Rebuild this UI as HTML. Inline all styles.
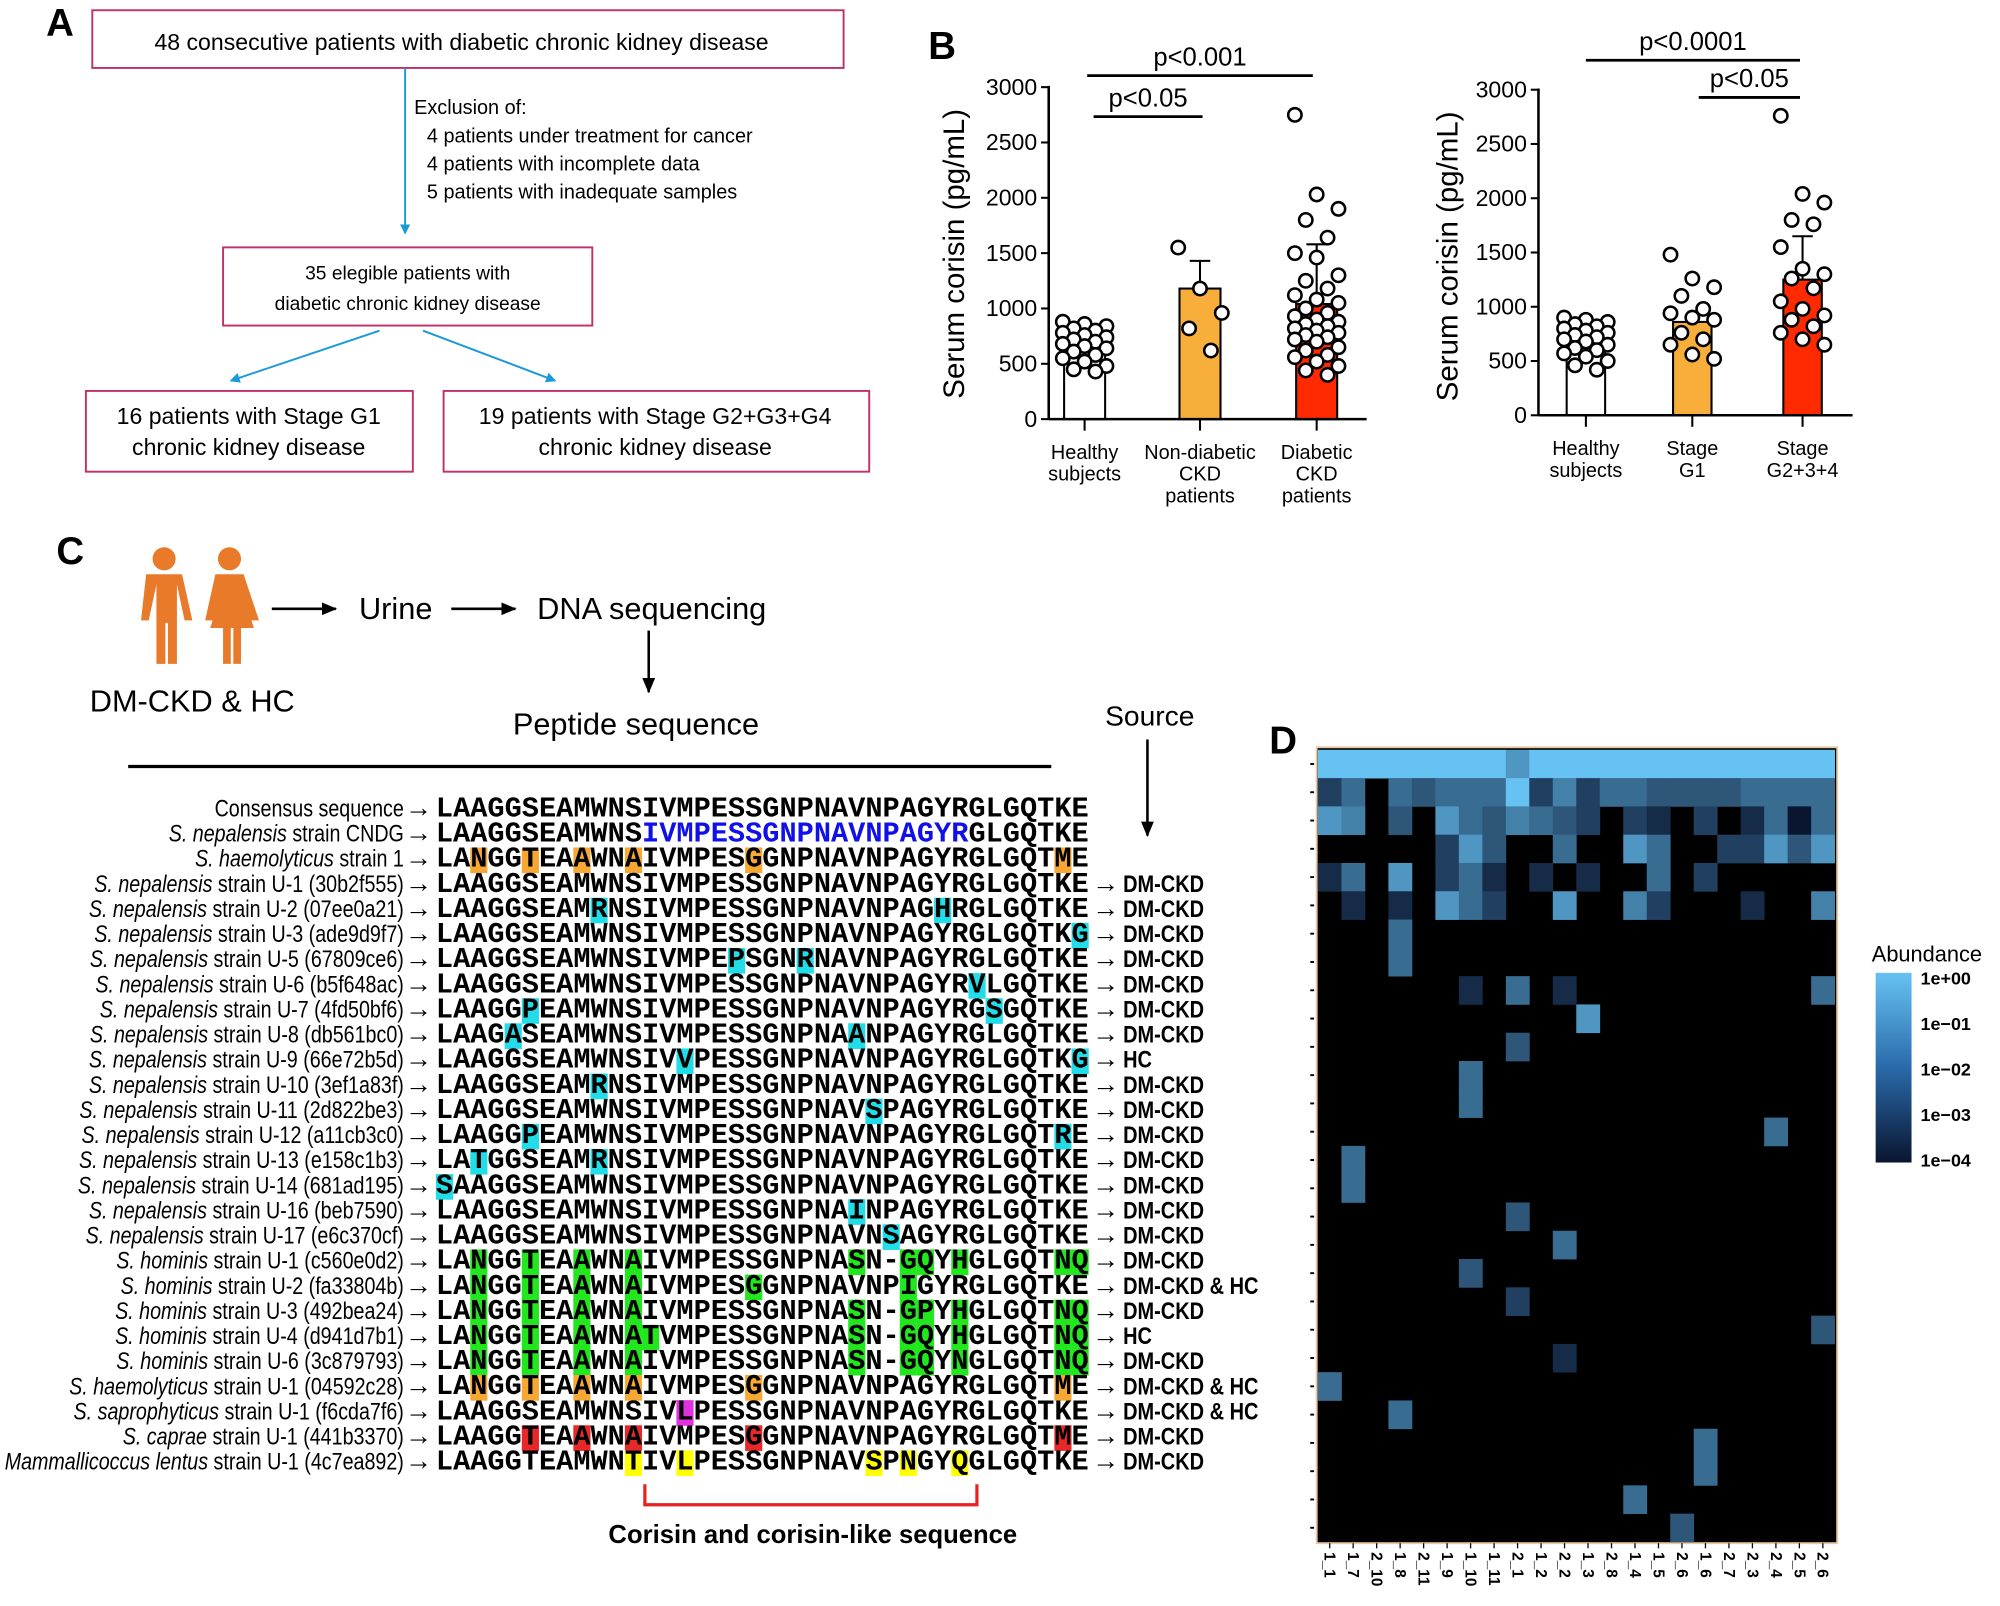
<!DOCTYPE html>
<html><head><meta charset="utf-8"><style>
html,body{margin:0;padding:0;background:#fff;}
svg{display:block;}
text{font-family:"Liberation Sans",Arial,sans-serif;}
.mono{font-family:"Liberation Mono",monospace;font-weight:bold;}
</style></head><body>
<svg id="fig" width="2000" height="1606" viewBox="0 0 1560 1253" preserveAspectRatio="none" xmlns="http://www.w3.org/2000/svg">
<defs>
<marker id="arrB" markerWidth="8" markerHeight="8" refX="7" refY="4" orient="auto" markerUnits="userSpaceOnUse"><path d="M0,0 L8,4 L0,8 z" fill="#1a9ad6"/></marker>
<marker id="arrK" markerWidth="12" markerHeight="10" refX="11" refY="5" orient="auto" markerUnits="userSpaceOnUse"><path d="M0,0 L12,5 L0,10 z" fill="#000"/></marker>
<linearGradient id="legGrad" x1="0" y1="0" x2="0" y2="1"><stop offset="0" stop-color="#66c2f2"/><stop offset="0.5" stop-color="#2a6aaa"/><stop offset="1" stop-color="#0a1530"/></linearGradient>
</defs>

<g>
<text x="36" y="28" font-size="30" font-weight="bold">A</text>
<rect x="72" y="8" width="586" height="45" fill="none" stroke="#c0306a" stroke-width="1.5"/>
<text x="360" y="39" font-size="18" text-anchor="middle">48 consecutive patients with diabetic chronic kidney disease</text>
<line x1="316" y1="53" x2="316" y2="182" stroke="#1a9ad6" stroke-width="1.5" marker-end="url(#arrB)"/>
<g font-size="15.5">
<text x="323" y="89">Exclusion of:</text>
<text x="333" y="111">4 patients under treatment for cancer</text>
<text x="333" y="133">4 patients with incomplete data</text>
<text x="333" y="155">5 patients with inadequate samples</text>
</g>
<rect x="174" y="193" width="288" height="61" fill="none" stroke="#c0306a" stroke-width="1.5"/>
<text x="318" y="218" font-size="15" text-anchor="middle">35 elegible patients with</text>
<text x="318" y="242" font-size="15" text-anchor="middle">diabetic chronic kidney disease</text>
<line x1="296" y1="258" x2="180" y2="297" stroke="#1a9ad6" stroke-width="1.5" marker-end="url(#arrB)"/>
<line x1="330" y1="258" x2="433" y2="297" stroke="#1a9ad6" stroke-width="1.5" marker-end="url(#arrB)"/>
<rect x="67" y="305" width="255" height="63" fill="none" stroke="#c0306a" stroke-width="1.5"/>
<text x="194" y="331" font-size="18" text-anchor="middle">16 patients with Stage G1</text>
<text x="194" y="355" font-size="18" text-anchor="middle">chronic kidney disease</text>
<rect x="346" y="305" width="332" height="63" fill="none" stroke="#c0306a" stroke-width="1.5"/>
<text x="511" y="331" font-size="18" text-anchor="middle">19 patients with Stage G2+G3+G4</text>
<text x="511" y="355" font-size="18" text-anchor="middle">chronic kidney disease</text>
</g>

<g id="panelB">
<text x="724" y="46" font-size="30" font-weight="bold">B</text>
</g>

<g id="panelC">
<text x="44" y="440" font-size="30" font-weight="bold">C</text>
<g fill="#e87a2a">
<circle cx="128" cy="436" r="9"/>
<path d="M114,448 h28 l8,36 h-6 l-6,-28 v62 h-7 v-32 h-2 v32 h-7 v-62 l-6,28 h-6 z"/>
<circle cx="179" cy="436" r="9"/>
<path d="M168,448 h22 l12,36 h-6 l-8,-26 l10,32 h-10 v28 h-6 v-28 h-2 v28 h-6 v-28 h-10 l10,-32 l-8,26 h-6 z"/>
</g>
<text x="70" y="555" font-size="24">DM-CKD &amp; HC</text>
<line x1="212" y1="475" x2="262" y2="475" stroke="#000" stroke-width="2" marker-end="url(#arrK)"/>
<text x="280" y="483" font-size="24">Urine</text>
<line x1="352" y1="475" x2="402" y2="475" stroke="#000" stroke-width="2" marker-end="url(#arrK)"/>
<text x="419" y="483" font-size="24">DNA sequencing</text>
<line x1="506" y1="492" x2="506" y2="540" stroke="#000" stroke-width="2" marker-end="url(#arrK)"/>
<text x="400" y="573" font-size="24">Peptide sequence</text>
<text x="862" y="566" font-size="22">Source</text>
<line x1="895" y1="577" x2="895" y2="652" stroke="#000" stroke-width="2" marker-end="url(#arrK)"/>
<line x1="100" y1="598" x2="820" y2="598" stroke="#000" stroke-width="2.5"/>
<path d="M503,1158 V1174 H762 V1158" fill="none" stroke="#e82020" stroke-width="2.5"/>
<text x="634" y="1204" font-size="20" font-weight="bold" text-anchor="middle">Corisin and corisin-like sequence</text>
<g id="align"></g>
</g>

<g id="panelD">
<text x="990" y="588" font-size="30" font-weight="bold">D</text>
</g>
</svg>

<script>
const NS="http://www.w3.org/2000/svg";
function mk(parent,tag,attrs,txt){const e=document.createElementNS(NS,tag);for(const k in attrs)e.setAttribute(k,attrs[k]);if(txt!==undefined)e.textContent=txt;parent.appendChild(e);return e;}

const b1Categories=[["Healthy","subjects"],["Non-diabetic","CKD","patients"],["Diabetic","CKD","patients"]];
const b1Means=[720,1180,1040];
const b1Err=[0,250,540];
const b1Healthy=[880,860,840,820,800,780,760,740,720,700,680,660,640,610,580,550,520,480,450,430];
const b1NonDiab=[1550,1180,960,820,620];
const b1Diab=[2750,2030,1900,1800,1640,1500,1460,1300,1250,1180,1120,1080,1050,1000,960,930,900,880,860,840,820,800,780,760,740,720,700,650,620,580,560,520,480,440,400];
const b2Categories=[["Healthy","subjects"],["Stage","G1"],["Stage","G2+3+4"]];
const b2Means=[720,860,1250];
const b2Err=[0,0,400];
const b2Healthy=[900,880,860,840,820,800,780,760,740,720,700,680,650,620,600,570,540,500,460,420];
const b2G1=[1480,1260,1180,1100,980,940,900,880,760,700,650,560,520];
const b2G2=[2760,2040,1960,1800,1760,1550,1350,1300,1260,1170,1050,980,920,880,820,760,700,650];
const yTicks=[0,500,1000,1500,2000,2500,3000];
const barColors=["#ffffff","#f7ae3b","#ff2a00"];

function barChart(g,ox,y0,y3000,xEnd,xs,cats,means,errs,groups,ylabX,ylabY,barW){
  const ys=v=>y0-(v/3000)*(y0-y3000);
  means.forEach((m,i)=>{
    const r=mk(g,'rect',{x:xs[i]-barW/2,y:ys(m),width:barW,height:y0-ys(m),fill:barColors[i],stroke:'#000','stroke-width':1.6});
    
    
    if(errs[i]>0){
      mk(g,'line',{x1:xs[i],y1:ys(m),x2:xs[i],y2:ys(m+errs[i]),stroke:'#000','stroke-width':1.6});
      mk(g,'line',{x1:xs[i]-8,y1:ys(m+errs[i]),x2:xs[i]+8,y2:ys(m+errs[i]),stroke:'#000','stroke-width':1.6});
    }
  });
  groups.forEach((arr,i)=>{
    arr.forEach((v,j)=>{
      const off=((j*7)%5-2)*8.5;
      const c=mk(g,'circle',{cx:xs[i]+off,cy:ys(v),r:5.2,fill:'#fff',stroke:'#000','stroke-width':2});
      
      
    });
  });
  mk(g,'line',{x1:ox,y1:ys(3000)-1,x2:ox,y2:y0,stroke:'#000','stroke-width':2});
  mk(g,'line',{x1:ox,y1:y0,x2:xEnd,y2:y0,stroke:'#000','stroke-width':2});
  yTicks.forEach(t=>{
    mk(g,'line',{x1:ox-6,y1:ys(t),x2:ox,y2:ys(t),stroke:'#000','stroke-width':1.6});
    const tx=mk(g,'text',{x:ox-9,y:ys(t)+6,'font-size':18,'text-anchor':'end'},String(t));
    
    
  });
  cats.forEach((c,i)=>{
    mk(g,'line',{x1:xs[i],y1:y0,x2:xs[i],y2:y0+9,stroke:'#000','stroke-width':1.6});
    c.forEach((w,k)=>{
      const tx=mk(g,'text',{x:xs[i],y:y0+31+k*17,'font-size':15.5,'text-anchor':'middle'},w);
      
      
    });
  });
  const yl=mk(g,'text',{x:ylabX,y:ylabY,'font-size':23,'text-anchor':'middle',transform:`rotate(-90 ${ylabX} ${ylabY})`},'Serum corisin (pg/mL)');
  
  
  return ys;
}
const pb=document.getElementById('panelB');
const g1=mk(pb,'g',{});


barChart(g1,818,327,68,1066,[846,936,1027],b1Categories,b1Means,b1Err,[b1Healthy,b1NonDiab,b1Diab],752,198,32);
const g2=mk(pb,'g',{});


barChart(g2,1200,324,70,1445,[1237,1320,1406],b2Categories,b2Means,b2Err,[b2Healthy,b2G1,b2G2],1137,200,30);
function sig(g,x1,x2,y,txt){mk(g,'line',{x1:x1,y1:y,x2:x2,y2:y,stroke:'#000','stroke-width':2.2});const t=mk(g,'text',{x:(x1+x2)/2,y:y-8,'font-size':20,'text-anchor':'middle'},txt);}
sig(pb,853,938,91,'p<0.05');
sig(pb,848,1024,59,'p<0.001');
sig(pb,1237,1404,47,'p<0.0001');
sig(pb,1325,1404,76,'p<0.05');

const rowLabels=[["","Consensus sequence"],["S. nepalensis"," strain CNDG"],["S. haemolyticus"," strain 1"],
["S. nepalensis"," strain U-1 (30b2f555)"],["S. nepalensis"," strain U-2 (07ee0a21)"],["S. nepalensis"," strain U-3 (ade9d9f7)"],
["S. nepalensis"," strain U-5  (67809ce6)"],["S. nepalensis"," strain U-6 (b5f648ac)"],["S. nepalensis"," strain U-7 (4fd50bf6)"],
["S. nepalensis"," strain U-8 (db561bc0)"],["S. nepalensis"," strain U-9 (66e72b5d)"],["S. nepalensis"," strain U-10 (3ef1a83f)"],
["S. nepalensis"," strain U-11 (2d822be3)"],["S. nepalensis"," strain U-12 (a11cb3c0)"],["S. nepalensis"," strain U-13 (e158c1b3)"],
["S. nepalensis"," strain U-14 (681ad195)"],["S. nepalensis"," strain U-16 (beb7590)"],["S. nepalensis"," strain U-17 (e6c370cf)"],
["S. hominis"," strain U-1 (c560e0d2)"],["S. hominis"," strain U-2 (fa33804b)"],["S. hominis"," strain U-3 (492bea24)"],
["S. hominis"," strain U-4 (d941d7b1)"],["S. hominis"," strain U-6 (3c879793)"],["S. haemolyticus"," strain U-1 (04592c28)"],
["S. saprophyticus"," strain U-1 (f6cda7f6)"],["S. caprae"," strain U-1 (441b3370)"],["Mammallicoccus lentus"," strain U-1 (4c7ea892)"]];
const sequences=["LAAGGSEAMWNSIVMPESSGNPNAVNPAGYRGLGQTKE","LAAGGSEAMWNSIVMPESSGNPNAVNPAGYRGLGQTKE","LANGGTEAAWNAIVMPESGGNPNAVNPAGYRGLGQTME",
"LAAGGSEAMWNSIVMPESSGNPNAVNPAGYRGLGQTKE","LAAGGSEAMRNSIVMPESSGNPNAVNPAGHRGLGQTKE","LAAGGSEAMWNSIVMPESSGNPNAVNPAGYRGLGQTKG",
"LAAGGSEAMWNSIVMPEPSGNRNAVNPAGYRGLGQTKE","LAAGGSEAMWNSIVMPESSGNPNAVNPAGYRVLGQTKE","LAAGGPEAMWNSIVMPESSGNPNAVNPAGYRGSGQTKE",
"LAAGASEAMWNSIVMPESSGNPNAANPAGYRGLGQTKE","LAAGGSEAMWNSIVVPESSGNPNAVNPAGYRGLGQTKG","LAAGGSEAMRNSIVMPESSGNPNAVNPAGYRGLGQTKE",
"LAAGGSEAMWNSIVMPESSGNPNAVSPAGYRGLGQTKE","LAAGGPEAMWNSIVMPESSGNPNAVNPAGYRGLGQTRE","LATGGSEAMRNSIVMPESSGNPNAVNPAGYRGLGQTKE",
"SAAGGSEAMWNSIVMPESSGNPNAVNPAGYRGLGQTKE","LAAGGSEAMWNSIVMPESSGNPNAINPAGYRGLGQTKE","LAAGGSEAMWNSIVMPESSGNPNAVNSAGYRGLGQTKE",
"LANGGTEAAWNAIVMPESSGNPNASN-GQYHGLGQTNQ","LANGGTEAAWNAIVMPESGGNPNAVNPIGYRGLGQTKE","LANGGTEAAWNAIVMPESSGNPNASN-GPYHGLGQTNQ",
"LANGGTEAAWNATVMPESSGNPNASN-GQYHGLGQTNQ","LANGGTEAAWNAIVMPESSGNPNASN-GQYNGLGQTNQ","LANGGTEAAWNAIVMPESGGNPNAVNPAGYRGLGQTME",
"LAAGGSEAMWNSIVLPESSGNPNAVNPAGYRGLGQTKE","LAAGGTEAAWNAIVMPESGGNPNAVNPAGYRGLGQTME","LAAGGTEAMWNTIVLPESSGNPNAVSPNGYQGLGQTKE"];
const highlights=[[],[],[2,5,8,11,18,36],[],[9,29],[37],[17,21],[31],[5,32],[4,24],[14,37],[9],[25],[5,36],[2,9],[0],[24],[26],
[2,5,8,11,24,27,28,30,36,37],[2,5,8,11,18,27],[2,5,8,11,24,27,28,30,36,37],[2,5,8,11,12,24,27,28,30,36,37],[2,5,8,11,24,27,28,30,36,37],
[2,5,8,11,18,36],[14],[5,8,11,18,36],[11,14,25,27,30]];
const hlColor=["","","#f7a832","#22dce8","#22dce8","#22dce8","#22dce8","#22dce8","#22dce8","#22dce8","#22dce8","#22dce8","#22dce8","#22dce8","#22dce8","#22dce8","#22dce8","#22dce8",
"#22e61e","#22e61e","#22e61e","#22e61e","#22e61e","#f7a832","#e030e0","#e82828","#ffff00"];
const sources=["","","","DM-CKD","DM-CKD","DM-CKD","DM-CKD","DM-CKD","DM-CKD","DM-CKD","HC","DM-CKD","DM-CKD","DM-CKD","DM-CKD","DM-CKD","DM-CKD","DM-CKD",
"DM-CKD","DM-CKD & HC","DM-CKD","HC","DM-CKD","DM-CKD & HC","DM-CKD & HC","DM-CKD","DM-CKD"];

const al=document.getElementById('align');
const CW=13.4, SX=340, RY0=637, RH=19.6;
sequences.forEach((s,r)=>{
  const y=RY0+r*RH;
  const row=mk(al,'g',{});
  
  
  highlights[r].forEach(i=>{
    mk(row,'rect',{x:SX+i*CW,y:y-15,width:CW,height:20,fill:hlColor[r]});
  });
  const lab=mk(row,'text',{x:0,y:0,'font-size':18.5,'text-anchor':'end',transform:`translate(315 ${y}) scale(0.83 1)`});
  if(rowLabels[r][0]){mk(lab,'tspan',{'font-style':'italic'},rowLabels[r][0]);}
  mk(lab,'tspan',{},rowLabels[r][1]);
  mk(row,'text',{x:316,y:y,'font-size':21},'\u2192');
  const st=mk(row,'text',{x:SX,y:y,'font-size':22.3,class:'mono',textLength:CW*38,lengthAdjust:'spacingAndGlyphs'});
  if(r===1){mk(st,'tspan',{},s.slice(0,12));mk(st,'tspan',{fill:'#1010e8'},s.slice(12,31));mk(st,'tspan',{},s.slice(31));}
  else st.textContent=s;
  if(sources[r]){
    mk(row,'text',{x:852,y:y,'font-size':21},'\u2192');
    const sr=mk(row,'text',{x:0,y:0,'font-size':19,'font-weight':'bold',transform:`translate(876 ${y}) scale(0.82 1)`},sources[r]);
    
    
  }
});

const colLabels=["1_1","1_7","2_10","1_8","2_11","1_9","1_10","1_11","2_1","1_2","2_2","1_3","2_8","1_4","1_5","2_6","1_6","2_7","2_3","2_4","2_5","2_6"];
const hmRows=[
[5,5,5,5,5,5,5,5,4,5,5,5,5,5,5,5,5,5,5,5,5,5],
[2,3,0,3,2.5,3,3,3,5,2,3.5,2,3,3,2.5,2.5,2.5,2.5,3,3,3,3],
[4,3.5,0,2.5,0,4,3,2.5,3.5,3,2.5,2,0,2,1.5,0,2,0,1.5,3,1,3],
[0,0,0,0,0,2,4,2.5,0,0,3,0,0,4,3,0,0,2,2,4,2.5,4],
[1.5,3,0,4,0,2,3,1.5,0,1.5,0,1.5,0,0,3,0,2,0,0,0,0,0],
[0,1.5,0,1.5,0,4,3,2,0,0,4,0,0,3.5,2,0,0,0,1.5,0,0,3.5],
[0,0,0,3,0,0,0,0,0,0,0,0,0,0,0,0,0,0,0,0,0,0],
[0,0,0,3,0,0,0,0,0,0,0,0,0,0,0,0,0,0,0,0,0,0],
[0,0,0,0,0,0,1.5,0,3,0,1.5,0,0,0,0,0,0,0,0,0,0,3],
[0,0,0,0,0,0,0,0,0,0,0,4,0,0,0,0,0,0,0,0,0,0],
[0,0,0,0,0,0,0,0,2.5,0,0,0,0,0,0,0,0,0,0,0,0,0],
[0,0,0,0,0,0,3,0,0,0,0,0,0,0,0,0,0,0,0,0,0,0],
[0,0,0,0,0,0,3,0,0,0,0,0,0,0,0,0,0,0,0,0,0,0],
[0,0,0,0,0,0,0,0,0,0,0,0,0,0,0,0,0,0,0,3,0,0],
[0,3,0,0,0,0,0,0,0,0,0,0,0,0,0,0,0,0,0,0,0,0],
[0,3,0,0,0,0,0,0,0,0,0,0,0,0,0,0,0,0,0,0,0,0],
[0,0,0,0,0,0,0,0,2.5,0,0,0,0,0,0,0,0,0,0,0,0,0],
[0,0,0,0,0,0,0,0,0,0,3,0,0,0,0,0,0,0,0,0,0,0],
[0,0,0,0,0,0,2.5,0,0,0,0,0,0,0,0,0,0,0,0,0,0,0],
[0,0,0,0,0,0,0,0,2,0,0,0,0,0,0,0,0,0,0,0,0,0],
[0,0,0,0,0,0,0,0,0,0,0,0,0,0,0,0,0,0,0,0,0,2.5],
[0,0,0,0,0,0,0,0,0,0,1.5,0,0,0,0,0,0,0,0,0,0,0],
[3,0,0,0,0,0,0,0,0,0,0,0,0,0,0,0,0,0,0,0,0,0],
[0,0,0,3,0,0,0,0,0,0,0,0,0,0,0,0,0,0,0,0,0,0],
[0,0,0,0,0,0,0,0,0,0,0,0,0,0,0,0,3,0,0,0,0,0],
[0,0,0,0,0,0,0,0,0,0,0,0,0,0,0,0,3,0,0,0,0,0],
[0,0,0,0,0,0,0,0,0,0,0,0,0,3,0,0,0,0,0,0,0,0],
[0,0,0,0,0,0,0,0,0,0,0,0,0,0,0,2.5,0,0,0,0,0,0]];
const legendTicks=["1e+00","1e\u221201","1e\u221202","1e\u221203","1e\u221204"];

const pd=document.getElementById('panelD');
const HX0=1028,HX1=1431,HY0=585,HY1=1203;
const cw=(HX1-HX0)/colLabels.length, rh=(HY1-HY0)/hmRows.length;
function lvlColor(v){
  if(v<=0) return '#000000';
  const a=[10,21,48], b=[102,194,242], t=(v-1)/4;
  const c=a.map((x,i)=>Math.round(x+(b[i]-x)*Math.max(0,Math.min(1,t))));
  return `rgb(${c[0]},${c[1]},${c[2]})`;
}
mk(pd,'rect',{x:HX0-1,y:HY0-2,width:HX1-HX0+3,height:HY1-HY0+3,fill:'#000',stroke:'#e9c9a8','stroke-width':1.5});
hmRows.forEach((row,r)=>{
  mk(pd,'line',{x1:HX0-6,y1:HY0+(r+0.5)*rh,x2:HX0-3,y2:HY0+(r+0.5)*rh,stroke:'#000','stroke-width':1.5});
  row.forEach((v,c)=>{
    if(v<=0) return;
    const cell=mk(pd,'rect',{x:HX0+c*cw,y:HY0+r*rh,width:cw+0.3,height:rh+0.3,fill:lvlColor(v)});
    
    
  });
});
colLabels.forEach((l,c)=>{
  const x=HX0+(c+0.5)*cw;
  mk(pd,'line',{x1:x,y1:HY1+1,x2:x,y2:HY1+5,stroke:'#000','stroke-width':1});
  const t=mk(pd,'text',{x:0,y:0,'font-size':12,'font-weight':'bold',transform:`translate(${x-4} ${HY1+8}) rotate(90)`},l);
  
  
});
const lt=mk(pd,'text',{x:1460,y:750,'font-size':17},'Abundance');


const lb=mk(pd,'rect',{x:1463,y:759,width:28,height:148,fill:'url(#legGrad)'});


legendTicks.forEach((t,i)=>{
  const y=763+i*35.5;
  const e=mk(pd,'text',{x:1498,y:y+5,'font-size':14,'font-weight':'bold'},t);
  
  
});
</script>
</body></html>
